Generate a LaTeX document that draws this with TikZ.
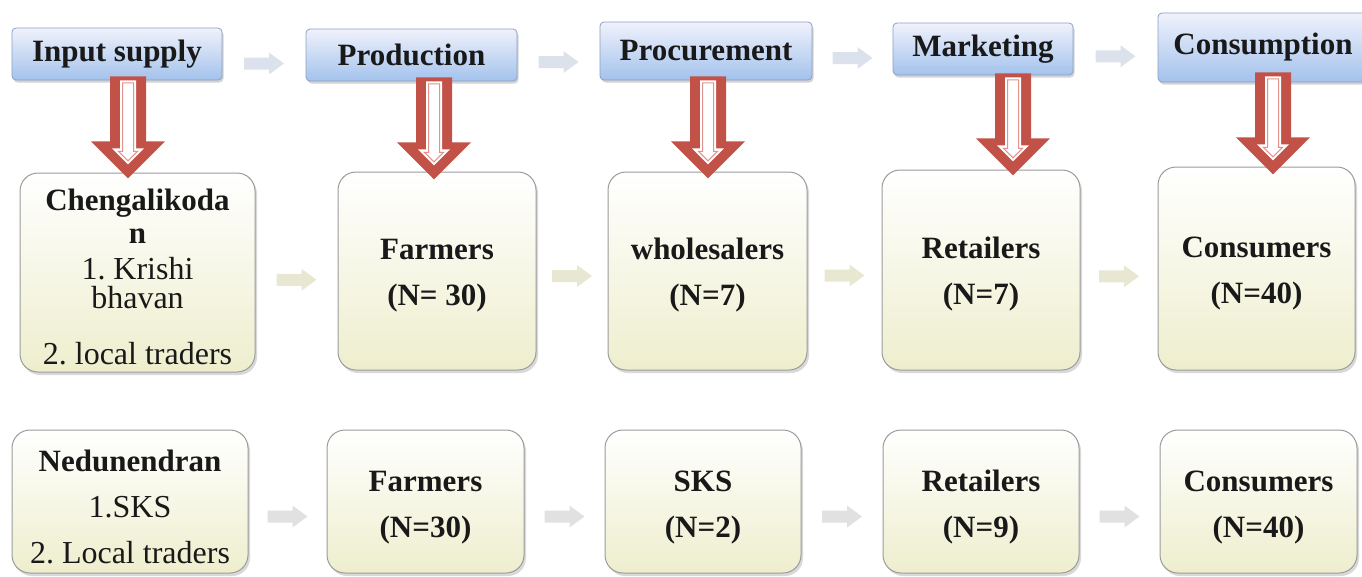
\documentclass[tikz,border=0pt]{standalone}
\usepackage{fontspec}
\setmainfont{Liberation Serif}
\usetikzlibrary{shadows,calc}
\frenchspacing

\definecolor{inkc}{RGB}{25,25,25}
\definecolor{hdrtop}{RGB}{240,242,252}
\definecolor{hdrbot}{RGB}{163,194,236}
\definecolor{hdrline}{RGB}{140,160,196}
\definecolor{boxline}{RGB}{155,155,155}
\definecolor{creamA}{RGB}{245,245,226}
\definecolor{creamB}{RGB}{238,238,206}
\definecolor{arrowred}{RGB}{194,82,72}
\definecolor{arrowpink}{RGB}{226,146,140}
\definecolor{fadeA}{RGB}{220,226,235}
\definecolor{fadeB}{RGB}{232,232,210}
\definecolor{fadeC}{RGB}{225,225,225}

\tikzset{
  header/.style={draw=hdrline, line width=0.8pt, rounded corners=4pt,
    top color=hdrtop, bottom color=hdrbot,
    font=\fontsize{31}{36}\selectfont\bfseries, text=inkc, inner sep=0pt,
    drop shadow={shadow xshift=1.5pt, shadow yshift=-2.5pt, opacity=0.35}},
  stagebox/.style={draw=boxline, line width=1pt, rounded corners=18pt,
    top color=white, middle color=creamA, bottom color=creamB,
    font=\fontsize{31}{46}\selectfont, text=inkc, align=center, inner sep=0pt,
    drop shadow={shadow xshift=2pt, shadow yshift=-3pt, opacity=0.3}}
}

% invisible strut that lowers a text block inside its box
\newcommand\lowerby[1]{\rule{0pt}{#1}}
\newcommand\listfont{\fontsize{32}{29}\selectfont}

% hollow red block arrow hanging from a shaft-top coordinate
\newcommand\feedarrow[1]{%
  \begin{scope}[shift={(#1)}]
    \fill[arrowred] (-18,0) -- (18,0) -- (18,65) -- (37,65) -- (0,102)
      -- (-37,65) -- (-18,65) -- cycle;
    \fill[white] (-8,4) -- (8,4) -- (8,72) -- (16,72) -- (0,88)
      -- (-16,72) -- (-8,72) -- cycle;
    \draw[arrowpink, line width=1pt] (-5.5,6.5) -- (5.5,6.5) -- (5.5,75)
      -- (9.5,75) -- (0,84.5) -- (-9.5,75) -- (-5.5,75) -- cycle;
  \end{scope}}

% faint block arrow centred on a coordinate, pointing right
\newcommand\flowmark[2]{%
  \fill[#2, shift={(#1)}] (-20,-6) -- (5,-6) -- (5,-11) -- (20,0) -- (5,11)
    -- (5,6) -- (-20,6) -- cycle;}

\begin{document}
\begin{tikzpicture}[x=1pt,y=-1pt]
\useasboundingbox (0,0) rectangle (1362,576);
\clip (0,0) rectangle (1362,576);

% stage headers
\node[header, minimum width=210pt, minimum height=52pt] (hIn)  at (117,54)    {Input supply};
\node[header, minimum width=211pt, minimum height=52pt] (hPro) at (411.5,55)  {Production};
\node[header, minimum width=212pt, minimum height=58pt] (hPcm) at (706,51)    {Procurement};
\node[header, minimum width=180pt, minimum height=52pt] (hMkt) at (983,49)    {Marketing};
\node[header, minimum width=210pt, minimum height=69pt] (hCon) at (1263,47.5) {Consumption};

% Chengalikodan chain
\node[stagebox, minimum width=235pt, minimum height=199pt] (cChen) at (137.5,272.5)
  {\lowerby{30pt}\textbf{Chengalikoda}\\[-13pt]\textbf{n}\\[-10pt]
   {\listfont 1. Krishi}\\[-17pt]{\listfont bhavan}\\[10pt]{\listfont 2. local traders}};
\node[stagebox, minimum width=198pt, minimum height=198pt] (cFar) at (437,271)
  {\lowerby{30pt}\textbf{Farmers}\\\textbf{(N= 30)}};
\node[stagebox, minimum width=199pt, minimum height=198pt] (cWho) at (707.5,271)
  {\lowerby{30pt}\textbf{wholesalers}\\\textbf{(N=7)}};
\node[stagebox, minimum width=198pt, minimum height=200pt] (cRet) at (981,270)
  {\lowerby{30pt}\textbf{Retailers}\\\textbf{(N=7)}};
\node[stagebox, minimum width=197pt, minimum height=203pt] (cCon) at (1256.5,268.5)
  {\lowerby{30pt}\textbf{Consumers}\\\textbf{(N=40)}};

% Nedunendran chain
\node[stagebox, minimum width=236pt, minimum height=143pt] (bNed) at (130,501.5)
  {\lowerby{32pt}\textbf{Nedunendran}\\{\fontsize{32}{46}\selectfont 1.SKS}\\{\fontsize{32}{46}\selectfont 2. Local traders}};
\node[stagebox, minimum width=197pt, minimum height=143pt] (bFar) at (425.5,501.5)
  {\lowerby{33pt}\textbf{Farmers}\\\textbf{(N=30)}};
\node[stagebox, minimum width=196pt, minimum height=143pt] (bSKS) at (703,501.5)
  {\lowerby{33pt}\textbf{SKS}\\\textbf{(N=2)}};
\node[stagebox, minimum width=196pt, minimum height=143pt] (bRet) at (981,501.5)
  {\lowerby{33pt}\textbf{Retailers}\\\textbf{(N=9)}};
\node[stagebox, minimum width=197pt, minimum height=143pt] (bCon) at (1258.5,501.5)
  {\lowerby{33pt}\textbf{Consumers}\\\textbf{(N=40)}};

% faint flow arrows between neighbouring stages
\path (hIn.east)  -- (hPro.west) coordinate[midway, yshift=-9pt] (fT1);
\path (hPro.east) -- (hPcm.west) coordinate[midway, yshift=-9pt] (fT2);
\path (hPcm.east) -- (hMkt.west) coordinate[midway, yshift=-8pt] (fT3);
\path (hMkt.east) -- (hCon.west) coordinate[midway, yshift=-8pt] (fT4);
\path (cChen.east) -- (cFar.west) coordinate[midway, yshift=-8pt] (fM1);
\path (cFar.east)  -- (cWho.west) coordinate[midway, yshift=-5pt] (fM2);
\path (cWho.east)  -- (cRet.west) coordinate[midway, yshift=-5pt] (fM3);
\path (cRet.east)  -- (cCon.west) coordinate[midway, yshift=-7pt] (fM4);
\path (bNed.east) -- (bFar.west) coordinate[midway, yshift=-15pt] (fB1);
\path (bFar.east) -- (bSKS.west) coordinate[midway, yshift=-15pt] (fB2);
\path (bSKS.east) -- (bRet.west) coordinate[midway, yshift=-15pt] (fB3);
\path (bRet.east) -- (bCon.west) coordinate[midway, yshift=-15pt] (fB4);
\flowmark{fT1}{fadeA}\flowmark{fT2}{fadeA}\flowmark{fT3}{fadeA}\flowmark{fT4}{fadeA}
\flowmark{fM1}{fadeB}\flowmark{fM2}{fadeB}\flowmark{fM3}{fadeB}\flowmark{fM4}{fadeB}
\flowmark{fB1}{fadeC}\flowmark{fB2}{fadeC}\flowmark{fB3}{fadeC}\flowmark{fB4}{fadeC}

% red arrows from each header down to its stage
\coordinate (arIn)  at ($(hIn.south -| 128,0)+(0,-4)$);
\coordinate (arPro) at ($(hPro.south -| 434,0)+(0,-4)$);
\coordinate (arPcm) at ($(hPcm.south -| 708,0)+(0,-4)$);
\coordinate (arMkt) at ($(hMkt.south -| 1013,0)+(0,-2)$);
\coordinate (arCon) at ($(hCon.south -| 1273,0)+(0,-10)$);
\feedarrow{arIn}
\feedarrow{arPro}
\feedarrow{arPcm}
\feedarrow{arMkt}
\feedarrow{arCon}
\end{tikzpicture}
\end{document}
